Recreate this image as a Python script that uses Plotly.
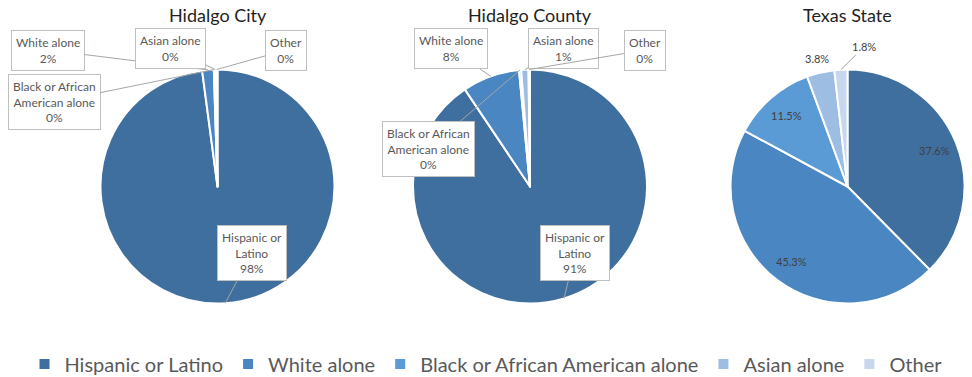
import math
import plotly.graph_objects as go

# ---------------- data ----------------
categories = ["Hispanic or Latino", "White alone", "Black or African American alone",
              "Asian alone", "Other"]
callout_names = ["Hispanic or<br>Latino", "White alone", "Black or African<br>American alone",
                 "Asian alone", "Other"]
city_values = [97.9, 1.6, 0.1, 0.2, 0.2]
county_values = [90.6, 7.9, 0.3, 1.0, 0.2]
texas_values = [37.6, 45.3, 11.5, 3.8, 1.8]
titles = ["Hidalgo City", "Hidalgo County", "Texas State"]
colors = ["#3f6f9f", "#4a86c2", "#5b9bd5", "#9dbde3", "#c6d7ee"]

# ---------------- layout helpers ----------------
W, H = 972, 377
R = 117
centers = [(217.5, 186.5), (530.0, 186.5), (847.5, 186.5)]
FONT = "Lato, 'Open Sans', sans-serif"


def domain(cx, cy):
    return dict(x=[(cx - R) / W, (cx + R) / W], y=[1 - (cy + R) / H, 1 - (cy - R) / H])


def slice_point(values, i, center, f):
    cx, cy = center
    total = sum(values)
    cum = sum(values[:i]) + values[i] / 2.0
    ang = 2 * math.pi * cum / total
    return cx + f * R * math.sin(ang), cy - f * R * math.cos(ang)


def callout(text, head, box):
    hx, hy = head
    bx, by = box
    return dict(x=hx / W, y=1 - hy / H, xref="paper", yref="paper",
                text=text, showarrow=True, arrowhead=0, arrowwidth=1,
                arrowcolor="#a6a6a6", ax=bx - hx, ay=by - hy,
                bordercolor="#bfbfbf", borderwidth=1, borderpad=4,
                bgcolor="white", font=dict(family=FONT, size=12, color="#595959"),
                align="center")


fig = go.Figure()
all_values = [city_values, county_values, texas_values]
for k, vals in enumerate(all_values):
    fig.add_trace(go.Pie(
        labels=categories, values=vals, sort=False, direction="clockwise", rotation=0,
        marker=dict(colors=colors, line=dict(color="white", width=2)),
        textinfo="none", hoverinfo="label+percent", domain=domain(*centers[k]),
        showlegend=(k == 0), name=titles[k]))

annotations = []
# titles
for k, t in enumerate(titles):
    cx, _ = centers[k]
    annotations.append(dict(x=cx / W, y=1 - 15 / H, xref="paper", yref="paper", text=t,
                            xanchor="center", yanchor="middle", showarrow=False,
                            font=dict(family=FONT, size=18, color="#1f1f1f")))

# callout boxes for City and County
box_pos = [
    [(252, 253), (48, 50), (54, 102), (170, 48), (286, 50)],
    [(575, 253), (451, 49), (428, 149), (563, 48), (645, 50)],
]
for k in range(2):
    vals = all_values[k]
    for i in range(len(categories)):
        head = slice_point(vals, i, centers[k], 1.0)
        txt = f"{callout_names[i]}<br>{round(vals[i])}%"
        annotations.append(callout(txt, head, box_pos[k][i]))

# Texas labels
tx_font = dict(family=FONT, size=11, color="#404040")
for i in range(3):
    px, py = slice_point(texas_values, i, centers[2], 0.8)
    annotations.append(dict(x=px / W, y=1 - py / H, xref="paper", yref="paper",
                            xanchor="center", yanchor="middle",
                            text=f"{texas_values[i]:.1f}%", showarrow=False, font=tx_font))
px, py = slice_point(texas_values, 3, centers[2], 1.12)
annotations.append(dict(x=px / W, y=1 - py / H, xref="paper", yref="paper",
                        xanchor="center", yanchor="middle",
                        text=f"{texas_values[3]:.1f}%", showarrow=False, font=tx_font))
hx, hy = slice_point(texas_values, 4, centers[2], 1.0)
annotations.append(dict(x=hx / W, y=1 - hy / H, xref="paper", yref="paper",
                        text=f"{texas_values[4]:.1f}%", showarrow=True, arrowhead=0,
                        arrowwidth=1, arrowcolor="#a6a6a6", ax=864 - hx, ay=47 - hy,
                        font=tx_font))

fig.update_layout(
    width=W, height=H, margin=dict(l=0, r=0, t=0, b=0, autoexpand=False),
    paper_bgcolor="white", plot_bgcolor="white",
    annotations=annotations,
    legend=dict(orientation="h", x=0.5, xanchor="center", y=1 - 364 / H, yanchor="middle",
                font=dict(family=FONT, size=20, color="#595959"), itemwidth=30,
                traceorder="normal"),
)

fig.write_html("out.html", config={"displayModeBar": False},
               post_script="document.body.style.margin='0';document.body.style.padding='0';"
                           "document.body.style.overflow='hidden';")
